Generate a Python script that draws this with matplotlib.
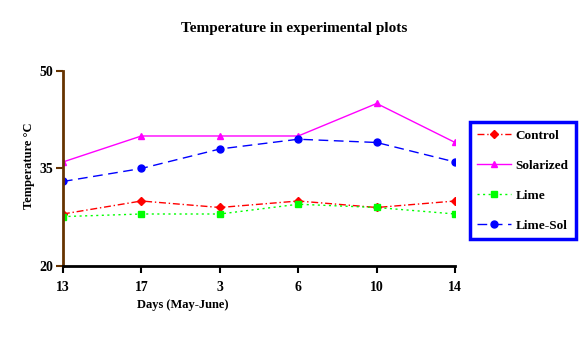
import matplotlib
matplotlib.use("Agg")
import matplotlib.pyplot as plt

days = ["13", "17", "3", "6", "10", "14"]
control = [28, 30, 29, 30, 29, 30]
solarized = [36, 40, 40, 40, 45, 39]
lime = [27.6, 28, 28, 29.5, 29, 28]
lime_sol = [33, 35, 38, 39.5, 39, 36]

plt.rcParams['font.family'] = ['Liberation Serif', 'DejaVu Serif']
plt.rcParams['font.weight'] = 'bold'

fig = plt.figure(figsize=(5.88, 3.38), dpi=100)
ax = fig.add_axes([0.107, 0.213, 0.667, 0.577])
x = range(len(days))

ax.plot(x, control, color='#ff0000', linestyle=(0, (5, 2, 1, 2)), lw=1,
        marker='D', ms=4, label='Control')
ax.plot(x, solarized, color='#ff00ff', linestyle='-', lw=1,
        marker='^', ms=5, label='Solarized')
ax.plot(x, lime, color='#00ff00', linestyle=(0, (1.5, 2.5)), lw=1,
        marker='s', ms=5, label='Lime')
ax.plot(x, lime_sol, color='#0000ff', linestyle=(0, (7, 4)), lw=1,
        marker='o', ms=5, label='Lime-Sol')

ax.set_xlim(0, len(days) - 1)
ax.set_ylim(20, 50)
ax.set_yticks([20, 35, 50])
ax.set_xticks(list(x))
ax.set_xticklabels(days)
for s in ['top', 'right']:
    ax.spines[s].set_visible(False)
ax.spines['left'].set_color('#663300')
ax.spines['left'].set_linewidth(2)
ax.spines['bottom'].set_linewidth(2)
ax.tick_params(axis='y', direction='out', length=5, width=1.5, colors='#663300',
               labelcolor='black', labelsize=10, pad=2)
ax.tick_params(axis='x', direction='out', length=5, width=1.5, labelsize=10, pad=6)

fig.text(0.5, 0.915, 'Temperature in experimental plots', ha='center', va='center',
         fontsize=11)
fig.text(0.311, 0.098, 'Days (May-June)', ha='center', va='center', fontsize=9)
fig.text(0.05, 0.51, 'Temperature \u00b0C', ha='center', va='center',
         rotation=90, fontsize=9)

leg = fig.legend(loc='upper left', bbox_to_anchor=(0.799, 0.639), frameon=True,
                 fancybox=False, framealpha=1, fontsize=9.5, handlelength=2.6,
                 borderpad=0.55, labelspacing=1.35, handletextpad=0.3,
                 borderaxespad=0)
leg.get_frame().set_edgecolor('#0000ff')
leg.get_frame().set_linewidth(2.5)

fig.savefig('out.png', dpi=100)
